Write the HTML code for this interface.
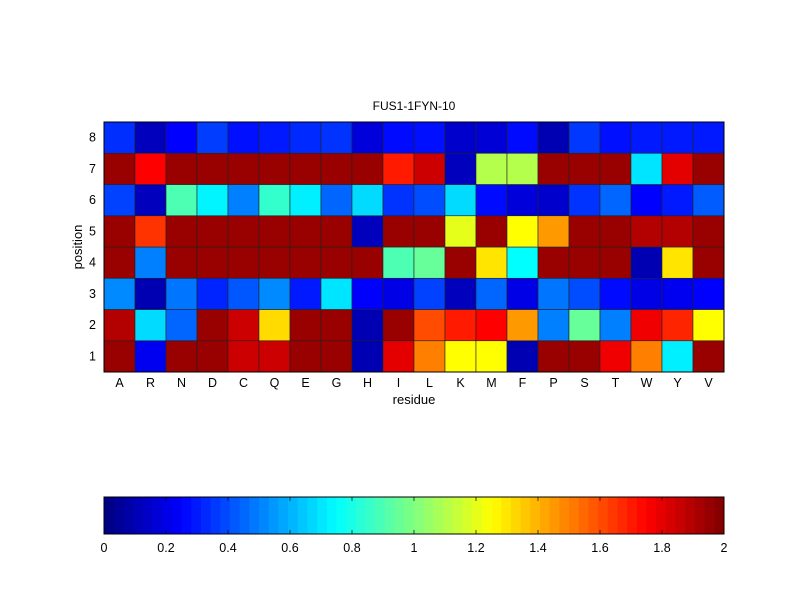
<!DOCTYPE html>
<html><head><meta charset="utf-8"><style>
body{margin:0;background:#fff;}
svg{display:block;font-family:"Liberation Sans",Arial,sans-serif;}
</style></head><body>
<svg id="c" width="800" height="600"></svg>
<script>
const residues=["A","R","N","D","C","Q","E","G","H","I","L","K","M","F","P","S","T","W","Y","V"];
const positions=[1,2,3,4,5,6,7,8];
const row1=[1.95,0.22,1.95,1.95,1.85,1.85,1.95,1.95,0.1,1.8,1.5,1.25,1.25,0.1,1.95,1.95,1.78,1.5,0.72,1.95];
const row2=[1.9,0.68,0.45,1.95,1.85,1.32,1.95,1.95,0.1,1.95,1.6,1.7,1.75,1.45,0.5,0.95,0.5,1.78,1.68,1.25];
const row3=[0.52,0.1,0.48,0.32,0.42,0.52,0.3,0.7,0.25,0.2,0.38,0.12,0.45,0.2,0.48,0.4,0.27,0.2,0.22,0.25];
const row4=[1.95,0.5,1.95,1.95,1.95,1.95,1.95,1.95,1.95,0.9,0.95,1.95,1.3,0.75,1.95,1.95,1.95,0.1,1.3,1.95];
const row5=[1.95,1.65,1.95,1.95,1.95,1.95,1.95,1.95,0.12,1.95,1.95,1.2,1.95,1.25,1.45,1.95,1.95,1.9,1.9,1.95];
const row6=[0.38,0.12,0.9,0.73,0.5,0.85,0.72,0.45,0.68,0.35,0.4,0.68,0.27,0.18,0.15,0.35,0.45,0.25,0.3,0.43];
const row7=[1.95,1.75,1.95,1.95,1.95,1.95,1.95,1.95,1.95,1.7,1.85,0.12,1.1,1.1,1.95,1.95,1.95,0.7,1.8,1.95];
const row8=[0.34,0.12,0.25,0.37,0.28,0.3,0.33,0.35,0.18,0.27,0.28,0.15,0.17,0.27,0.1,0.36,0.28,0.3,0.3,0.3];
const rows=[row1,row2,row3,row4,row5,row6,row7,row8];
const cbTicks=[0,0.2,0.4,0.6,0.8,1,1.2,1.4,1.6,1.8,2];
const vmin=0,vmax=2;
const L=104,R=724,T=122,B=372;
const cw=(R-L)/residues.length, rh=(B-T)/positions.length;
const xS=i=>L+i*cw;
const yS=p=>B-p*rh;
function jet(v){let t=Math.max(0,Math.min(1,(v-vmin)/(vmax-vmin)));
 const f=x=>Math.max(0,Math.min(1,x));
 const r=f(Math.min(4*t-1.5,-4*t+4.5)),g=f(Math.min(4*t-0.5,-4*t+3.5)),b=f(Math.min(4*t+0.5,-4*t+2.5));
 return `rgb(${Math.round(r*255)},${Math.round(g*255)},${Math.round(b*255)})`;}
const NS="http://www.w3.org/2000/svg";const svg=document.getElementById('c');
function el(t,a,txt){const e=document.createElementNS(NS,t);for(const k in a)e.setAttribute(k,a[k]);if(txt!==undefined)e.textContent=txt;svg.appendChild(e);return e;}
rows.forEach((row,p)=>row.forEach((v,i)=>{
 const r=el('rect',{x:xS(i),y:yS(p+1),width:cw,height:rh,fill:jet(v),stroke:'#222','stroke-width':0.6});
 
 
}));
const fr=el('rect',{x:L,y:T,width:R-L,height:B-T,fill:'none',stroke:'#000','stroke-width':1});

residues.forEach((r,i)=>{const t=el('text',{x:xS(i)+cw/2,y:387,'text-anchor':'middle','font-size':12.5},r);
 });
positions.forEach((p,k)=>{const t=el('text',{x:96,y:yS(k)-rh/2+4,'text-anchor':'end','font-size':12.5},p);
 });
let t=el('text',{x:414,y:404,'text-anchor':'middle','font-size':13},'residue');

t=el('text',{x:82,y:247,'text-anchor':'middle','font-size':13,transform:'rotate(-90 82 247)'},'position');

t=el('text',{x:414,y:110,'text-anchor':'middle','font-size':12},'FUS1-1FYN-10');

const cL=104,cR=724,cT=497,cB=534,n=64;
for(let k=0;k<n;k++){const r=el('rect',{x:cL+k*(cR-cL)/n,y:cT,width:(cR-cL)/n+0.5,height:cB-cT,fill:jet(vmin+(k+0.5)*(vmax-vmin)/n)});
 }
const cf=el('rect',{x:cL,y:cT,width:cR-cL,height:cB-cT,fill:'none',stroke:'#000','stroke-width':1});

cbTicks.forEach(v=>{const x=cL+(v-vmin)/(vmax-vmin)*(cR-cL);
 el('line',{x1:x,x2:x,y1:cT,y2:cT+4,stroke:'#000','stroke-width':0.7});
 el('line',{x1:x,x2:x,y1:cB,y2:cB-4,stroke:'#000','stroke-width':0.7});
 const tt=el('text',{x:x,y:552,'text-anchor':'middle','font-size':12.5},String(v));
 });
</script>
</body></html>
